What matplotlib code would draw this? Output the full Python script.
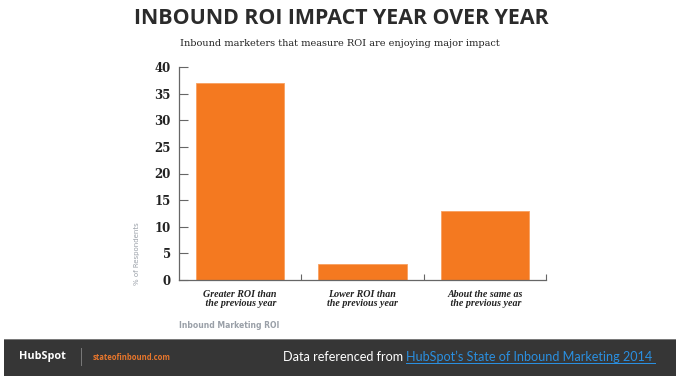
import matplotlib
matplotlib.use("Agg")
import matplotlib.pyplot as plt
from matplotlib.patches import Rectangle

categories = ["Greater ROI than\n the previous year", "Lower ROI than\nthe previous year", "About the same as\n the previous year"]
values = [37, 3, 13]
yticks = [0, 5, 10, 15, 20, 25, 30, 35, 40]

W, H = 680, 378
fig = plt.figure(figsize=(W / 100, H / 100), dpi=100)
fig.patch.set_facecolor("white")

def fx(px):
    return px / W

def fy(py):
    return 1 - py / H

# Title and subtitle
fig.text(fx(341), fy(18), "INBOUND ROI IMPACT YEAR OVER YEAR", ha="center", va="center",
         fontsize=15.4, fontweight="bold", family="Open Sans", color="#2b2b2b")
fig.text(fx(340), fy(44), "Inbound marketers that measure ROI are enjoying major impact",
         ha="center", va="center", fontsize=7, family="DejaVu Serif", color="#222222")

# Axes
left, right, top, bottom = 179, 546, 67, 280
ax = fig.add_axes([fx(left), fy(bottom), fx(right - left), (bottom - top) / H])
x = list(range(len(categories)))
ax.bar(x, values, width=0.72, color="#F47920", edgecolor="#F8A060", linewidth=0.6, zorder=2)
ax.set_xlim(-0.5, 2.5)
ax.set_ylim(0, 40)
ax.set_yticks(yticks)
ax.set_yticklabels([str(t) for t in yticks], family="DejaVu Serif", fontweight="bold",
                   fontsize=8.5, color="#222222")
ax.set_xticks(x)
ax.set_xticklabels(categories, family="Liberation Serif", style="italic", fontweight="bold",
                   fontsize=7.2, color="#222222", linespacing=1.1)
ax.tick_params(axis="x", length=0, pad=7)
ax.set_xticks([0.5, 1.5, 2.5], minor=True)
ax.tick_params(axis="x", which="minor", direction="in", length=4, color="#666666", width=0.8)
ax.tick_params(axis="y", direction="in", length=6.5, color="#666666", width=0.8, pad=6)
for s in ["top", "right"]:
    ax.spines[s].set_visible(False)
for s in ["left", "bottom"]:
    ax.spines[s].set_color("#666666")
    ax.spines[s].set_linewidth(0.9)
ax.set_facecolor("none")

# Axis titles
fig.text(fx(137), fy(254), "% of Respondents", rotation=90, ha="center", va="center",
         fontsize=5, color="#9aa0a8")
fig.text(fx(179), fy(325), "Inbound Marketing ROI", ha="left", va="center",
         fontsize=5.5, color="#9aa0a8", fontweight="bold")

# Footer band
fig.patches.append(Rectangle((fx(4), fy(376)), fx(672), (376 - 339) / H, transform=fig.transFigure,
                             facecolor="#363636", edgecolor="none", zorder=0))
fig.patches.append(Rectangle((fx(4), fy(340)), fx(672), 1.2 / H, transform=fig.transFigure,
                             facecolor="#7a7a7a", edgecolor="none", zorder=1))
fig.text(fx(19), fy(357), "HubSpot", ha="left", va="center", fontsize=7.8,
         fontweight="bold", family="Open Sans", color="white")
fig.patches.append(Rectangle((fx(81), fy(366)), 0.8 / W, 18 / H, transform=fig.transFigure,
                             facecolor="#777777", edgecolor="none"))
fig.text(fx(93), fy(357), "stateofinbound.com", ha="left", va="center", fontsize=5.5,
         fontweight="bold", family="Open Sans", color="#E8762C")
t1 = fig.text(fx(283), fy(357), "Data referenced from ", ha="left", va="center",
              fontsize=9.1, family="Lato", color="white")
fig.canvas.draw()
bb = t1.get_window_extent()
t2 = fig.text(bb.x1 / W, fy(357), "HubSpot\u2019s State of Inbound Marketing 2014 ", ha="left",
              va="center", fontsize=9.1, family="Lato", color="#2a8fe0")
fig.canvas.draw()
bb2 = t2.get_window_extent()
fig.patches.append(Rectangle((bb2.x0 / W, fy(364)), (bb2.x1 - bb2.x0) / W, 0.9 / H,
                             transform=fig.transFigure, facecolor="#2a8fe0", edgecolor="none"))

fig.savefig("out.png", dpi=100)
